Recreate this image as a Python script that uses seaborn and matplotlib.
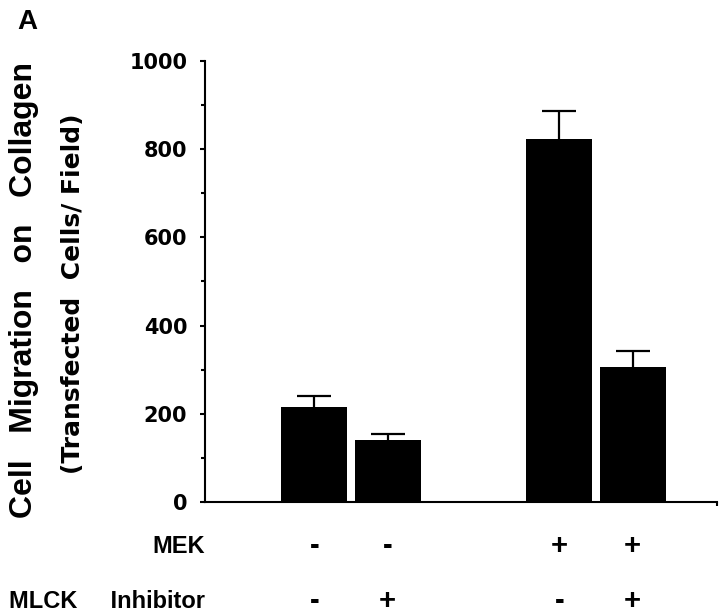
import matplotlib
matplotlib.use("Agg")
import matplotlib.pyplot as plt
import matplotlib.transforms as mtransforms
from matplotlib.ticker import MultipleLocator
import numpy as np
import pandas as pd
import seaborn as sns

# ---- data ----
mek = ["-", "-", "+", "+"]
inhibitor = ["-", "+", "-", "+"]
migration = [216, 141, 822, 306]
error_up = [25, 13, 65, 37]
y_ticks = [0, 200, 400, 600, 800, 1000]
y_label_main = "Cell   Migration   on   Collagen"
y_label_sub = "(Transfected  Cells/ Field)"
row_labels = ["MEK", "MLCK     Inhibitor"]

df = pd.DataFrame({"MEK": mek, "Inhibitor": inhibitor, "value": migration})

sns.set_theme(style="ticks")
plt.rcParams["font.family"] = ["Liberation Sans", "DejaVu Sans"]
for k in ["text.color", "axes.labelcolor", "xtick.color", "ytick.color",
          "axes.edgecolor"]:
    plt.rcParams[k] = "black"

fig = plt.figure(figsize=(7.2, 6.14), dpi=100)
ax = fig.add_axes([0.2847, 0.1824, 0.9958 - 0.2847, 0.9007 - 0.1824])

sns.barplot(data=df, x="MEK", y="value", hue="Inhibitor",
            order=["-", "+"], hue_order=["-", "+"],
            palette=["black", "black"], width=0.6, gap=0.1,
            errorbar=None, legend=False, ax=ax,
            edgecolor="black", linewidth=0)

# bar centres from the drawn patches, sorted left to right
bars = sorted([p for p in ax.patches if p.get_height() > 0], key=lambda p: p.get_x())
for p in bars:
    p.set_zorder(3)
centers = [p.get_x() + p.get_width() / 2 for p in bars]
heights = [p.get_height() for p in bars]

eb = ax.errorbar(centers, heights, yerr=[np.zeros(len(error_up)), error_up],
                 fmt="none", ecolor="black", elinewidth=1.6, capsize=12.2,
                 capthick=1.6, zorder=1)
# hide the lower caps (they sit on the bar tops)
for cap in eb[1]:
    if np.allclose(np.asarray(cap.get_ydata(), dtype=float), heights):
        cap.set_visible(False)

ax.set_ylim(0, 1000)
ax.set_xlim(-0.596, 1.494)
ax.yaxis.set_major_locator(MultipleLocator(200))
ax.yaxis.set_minor_locator(MultipleLocator(100))
ax.set_yticks(y_ticks)
ax.set_yticklabels([str(t) for t in y_ticks], fontfamily="DejaVu Sans",
                   fontweight="bold", fontsize=15)
ax.tick_params(axis="y", which="major", direction="out", length=3.8, width=1.5,
               color="black", pad=9, labelcolor="black")
ax.tick_params(axis="y", which="minor", direction="out", length=3.2, width=1.5,
               color="black")
# small end tick at the right end of the x axis
ax.set_xticks([ax.get_xlim()[1]])
ax.set_xticklabels([""])
ax.tick_params(axis="x", which="major", direction="out", length=3, width=1.5,
               color="black")
ax.set_xlabel("")
ax.set_ylabel("")
for s in ["top", "right"]:
    ax.spines[s].set_visible(False)
for s in ["left", "bottom"]:
    ax.spines[s].set_linewidth(1.5)
    ax.spines[s].set_color("black")
    ax.spines[s].set_zorder(4)

# y axis titles
fig.text(0.034, 0.5277, y_label_main, rotation=90, ha="center", va="center",
         fontsize=23, fontweight="bold", fontfamily=["Liberation Sans", "DejaVu Sans"])
fig.text(0.101, 0.522, y_label_sub, rotation=90, ha="center", va="center",
         fontsize=18, fontweight="bold", fontfamily=["DejaVu Sans"])

# panel letter
fig.text(0.0375, 0.964, "A", ha="center", va="center", fontsize=20,
         fontweight="bold")

# condition rows
trans = mtransforms.blended_transform_factory(ax.transData, fig.transFigure)
row_y = [1 - 546.5 / 614, 1 - 601 / 614]
fig.text(205 / 720, row_y[0], row_labels[0], ha="right", va="center",
         fontsize=17, fontweight="bold")
fig.text(205 / 720, row_y[1], row_labels[1], ha="right", va="center",
         fontsize=17, fontweight="bold")
for cx, m, inh in zip(centers, mek, inhibitor):
    ax.text(cx, row_y[0], m, transform=trans, ha="center", va="center",
            fontsize=21, fontweight="bold", clip_on=False)
    ax.text(cx, row_y[1], inh, transform=trans, ha="center", va="center",
            fontsize=21, fontweight="bold", clip_on=False)

fig.savefig("out.png", dpi=100)
